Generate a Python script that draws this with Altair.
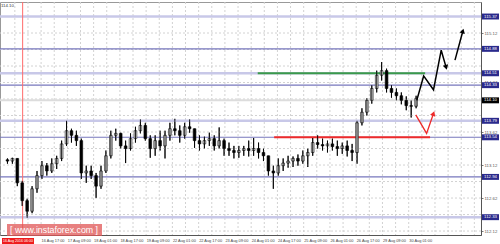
import altair as alt
import pandas as pd

# ---------------- data (3-hour candles, USD/JPY-like prices) ----------------
candle_high = [113.22, 113.23, 113.22, 112.88, 112.61, 112.80, 113.03, 113.18, 113.15, 113.22,
               113.26, 113.49, 113.79, 113.67, 113.64, 113.52, 113.11, 113.11, 113.00, 113.11,
               113.34, 113.64, 113.67, 113.61, 113.49, 113.60, 113.70, 113.81, 113.76, 113.57,
               113.57, 113.64, 113.64, 113.76, 113.82, 113.72, 113.76, 113.81, 113.67, 113.57,
               113.55, 113.61, 113.57, 113.69, 113.52, 113.46, 113.41, 113.41, 113.41, 113.49,
               113.53, 113.46, 113.37, 113.26, 113.11, 113.22, 113.22, 113.26, 113.25, 113.28,
               113.34, 113.37, 113.53, 113.57, 113.52, 113.49, 113.52, 113.49, 113.46, 113.49,
               113.44, 113.79, 113.98, 114.13, 114.33, 114.55, 114.68, 114.58, 114.33, 114.28,
               114.22, 114.16, 114.10, 114.17]
candle_low = [113.14, 113.14, 112.80, 112.50, 112.32, 112.39, 112.70, 112.91, 112.96, 113.00,
              113.06, 113.18, 113.41, 113.46, 113.41, 112.91, 112.85, 112.91, 112.62, 112.76,
              113.00, 113.22, 113.49, 113.37, 113.15, 113.34, 113.46, 113.60, 113.49, 113.23,
              113.26, 113.34, 113.22, 113.49, 113.57, 113.46, 113.52, 113.61, 113.38, 113.34,
              113.37, 113.41, 113.34, 113.37, 113.26, 113.26, 113.22, 113.23, 113.26, 113.25,
              113.26, 113.22, 113.18, 112.96, 112.76, 112.96, 113.03, 113.08, 113.09, 113.11,
              113.14, 113.09, 113.26, 113.37, 113.34, 113.31, 113.34, 113.26, 113.29, 113.25,
              113.18, 113.14, 113.72, 113.87, 114.05, 114.22, 114.40, 114.22, 114.14, 114.10,
              114.04, 113.95, 113.84, 113.98]
candle_close = [113.18, 113.22, 112.85, 112.58, 112.42, 112.76, 112.96, 113.11, 113.03, 113.14,
                113.22, 113.44, 113.64, 113.57, 113.49, 113.00, 113.03, 112.96, 112.80, 113.03,
                113.26, 113.57, 113.60, 113.41, 113.37, 113.52, 113.64, 113.72, 113.52, 113.37,
                113.49, 113.41, 113.57, 113.67, 113.64, 113.57, 113.70, 113.67, 113.49, 113.44,
                113.49, 113.52, 113.41, 113.49, 113.37, 113.34, 113.31, 113.34, 113.37, 113.34,
                113.37, 113.31, 113.26, 113.03, 113.00, 113.11, 113.15, 113.18, 113.22, 113.18,
                113.26, 113.31, 113.46, 113.43, 113.41, 113.44, 113.40, 113.37, 113.41, 113.34,
                113.31, 113.76, 113.92, 114.10, 114.28, 114.48, 114.55, 114.28, 114.22, 114.17,
                114.10, 114.02, 114.01, 114.13]
first_open = 113.20
hours_per_candle = 3

x_label_text = ["16 Aug 17:00", "17 Aug 09:00", "18 Aug 01:00", "18 Aug 17:00", "19 Aug 09:00",
                "22 Aug 01:00", "22 Aug 17:00", "23 Aug 09:00", "24 Aug 01:00", "24 Aug 17:00",
                "25 Aug 09:00", "26 Aug 01:00", "26 Aug 17:00", "29 Aug 09:00", "30 Aug 01:00"]
x_label_hour = [22, 38, 54, 70, 86, 102, 118, 134, 150, 166, 182, 198, 214, 230, 246]
x_grid_hour = [6, 14, 22, 30, 38, 46, 54, 62, 70, 78, 86, 94, 102, 110, 118, 126, 134, 142,
               150, 158, 166, 174, 182, 190, 198, 206, 214, 222, 230, 238, 246, 254, 262,
               270, 278, 286]
y_ticks = [112.12, 112.37, 112.62, 112.87, 113.12, 113.37, 113.62, 113.87, 114.37,
           114.62, 115.12]
y_grid = [112.12, 112.37, 112.62, 112.87, 113.12, 113.37, 113.62, 113.87, 114.12, 114.37,
          114.62, 114.87, 115.12, 115.37]

levels_light = [115.37, 114.51, 113.79, 112.33]
levels_dark = [114.88, 114.33, 113.54, 112.94]
current_price = 114.10
cursor_hour = 10.75

green_level = 114.51
green_from, green_to = 154, 256
red_level = 113.54
red_from, red_to = 164, 259

black_path1_h = [250.9, 255.1, 261.1, 265.8, 268.8]
black_path1_p = [114.10, 114.47, 114.26, 114.86, 114.60]
black_path2_h = [274.2, 279.0]
black_path2_p = [114.71, 115.15]
red_path_h = [250.3, 256.9, 261.1]
red_path_p = [113.88, 113.60, 113.90]

# ---------------- tables ----------------
opens = [first_open] + candle_close[:-1]
candles = pd.DataFrame({
    "h": [hours_per_candle * i + hours_per_candle / 2 for i in range(len(candle_close))],
    "open": opens, "high": candle_high, "low": candle_low, "close": candle_close,
})
candles["bull"] = candles["close"] >= candles["open"]

X_DOM = [0, 287]
Y_DOM = [112.06, 115.59]
xs = alt.Scale(domain=X_DOM, nice=False, zero=False)
ys = alt.Scale(domain=Y_DOM, nice=False, zero=False)
FONT = "Liberation Sans"

base = alt.Chart(candles)

grid = alt.Chart(pd.DataFrame({"p": y_grid})).mark_rule(
    color="#d2d2d2", strokeDash=[2, 2], strokeWidth=1).encode(y=alt.Y("p:Q", scale=ys))
vgrid = alt.Chart(pd.DataFrame({"h": x_grid_hour})).mark_rule(
    color="#d2d2d2", strokeDash=[2, 2], strokeWidth=1).encode(x=alt.X("h:Q", scale=xs))

wicks = base.mark_rule(color="#000000", strokeWidth=0.9).encode(
    x=alt.X("h:Q", scale=xs,
            axis=alt.Axis(labels=False, ticks=False, domain=True, domainColor="#555555",
                          grid=False, title=None)),
    y=alt.Y("low:Q", scale=ys,
            axis=alt.Axis(orient="right", values=y_ticks, format=".2f", grid=False,
                          domainColor="#555555", tickSize=2, tickColor="#777777",
                          labelFontSize=4.3, labelColor="#555555", labelFont=FONT,
                          labelPadding=1, title=None)),
    y2="high:Q",
)
bodies = base.mark_bar(width=2.7, stroke="#000000", strokeWidth=0.6).encode(
    x=alt.X("h:Q", scale=xs),
    y=alt.Y("open:Q", scale=ys),
    y2="close:Q",
    fill=alt.condition("datum.bull", alt.value("#ffffff"), alt.value("#000000")),
)

cur_line = alt.Chart(pd.DataFrame({"p": [current_price]})).mark_rule(
    color="#dcdcdc", strokeWidth=2).encode(y=alt.Y("p:Q", scale=ys))
light_lines = alt.Chart(pd.DataFrame({"p": levels_light})).mark_rule(
    color="#c8c8e8", strokeWidth=2.5).encode(y=alt.Y("p:Q", scale=ys))
dark_lines = alt.Chart(pd.DataFrame({"p": levels_dark})).mark_rule(
    color="#7777bd", strokeWidth=1.1).encode(y=alt.Y("p:Q", scale=ys))
cursor = alt.Chart(pd.DataFrame({"h": [cursor_hour]})).mark_rule(
    color="#ff6a6a", strokeWidth=1).encode(x=alt.X("h:Q", scale=xs))

green_seg = alt.Chart(pd.DataFrame({"a": [green_from], "b": [green_to], "p": [green_level]})).mark_rule(
    color="#3a9a4a", strokeWidth=2).encode(x=alt.X("a:Q", scale=xs), x2="b:Q", y=alt.Y("p:Q", scale=ys))
red_seg = alt.Chart(pd.DataFrame({"a": [red_from], "b": [red_to], "p": [red_level]})).mark_rule(
    color="#ee2a2a", strokeWidth=2).encode(x=alt.X("a:Q", scale=xs), x2="b:Q", y=alt.Y("p:Q", scale=ys))


def path(hs, ps, color, width):
    df = pd.DataFrame({"h": hs, "p": ps, "o": list(range(len(hs)))})
    return alt.Chart(df).mark_line(color=color, strokeWidth=width).encode(
        x=alt.X("h:Q", scale=xs), y=alt.Y("p:Q", scale=ys), order="o:Q")


def head(h, p, color, ang):
    return alt.Chart(pd.DataFrame({"h": [h], "p": [p]})).mark_point(
        shape="triangle-up", filled=True, color=color, size=30, angle=ang, opacity=1).encode(
        x=alt.X("h:Q", scale=xs), y=alt.Y("p:Q", scale=ys))


fc1 = path(black_path1_h, black_path1_p, "#000000", 1.5)
fc2 = path(black_path2_h, black_path2_p, "#000000", 1.5)
fcr = path(red_path_h, red_path_p, "#ee2a2a", 1.3)
hd1 = head(black_path1_h[-1], black_path1_p[-1], "#000000", 164)
hd2 = head(black_path2_h[-1], black_path2_p[-1], "#000000", 16)
hdr = head(red_path_h[-1], red_path_p[-1], "#ee2a2a", 20)

box_df = pd.DataFrame({"p": levels_light + levels_dark})
box_df["lab"] = box_df["p"].map(lambda v: f"{v:.2f}")
boxes = alt.Chart(box_df).transform_calculate(
    lo="datum.p - 0.045", hi="datum.p + 0.045").mark_rect(color="#2a2a8c").encode(
    x=alt.value(482), x2=alt.value(499), y=alt.Y("lo:Q", scale=ys), y2="hi:Q")
box_txt = alt.Chart(box_df).mark_text(color="#ffffff", fontSize=4.3, font=FONT, align="center",
                                      baseline="middle").encode(
    x=alt.value(490.5), y=alt.Y("p:Q", scale=ys), text="lab:N")
cur_df = pd.DataFrame({"p": [current_price], "lab": [f"{current_price:.2f}"]})
cur_box = alt.Chart(cur_df).transform_calculate(
    lo="datum.p - 0.045", hi="datum.p + 0.045").mark_rect(color="#000000").encode(
    x=alt.value(482), x2=alt.value(499), y=alt.Y("lo:Q", scale=ys), y2="hi:Q")
cur_txt = alt.Chart(cur_df).mark_text(color="#ffffff", fontSize=4.3, font=FONT, align="center",
                                      baseline="middle").encode(
    x=alt.value(490.5), y=alt.Y("p:Q", scale=ys), text="lab:N")

xl = alt.Chart(pd.DataFrame({"h": x_label_hour, "t": x_label_text})).mark_text(
    fontSize=3.9, font=FONT, color="#444444", align="left", baseline="middle", dx=0.5).encode(
    x=alt.X("h:Q", scale=xs), y=alt.value(239), text="t:N")

date_box = alt.Chart(pd.DataFrame({"t": ["16 Aug 2016 06:00"]})).mark_rect(color="#ee1c1c").encode(
    x=alt.value(2), x2=alt.value(34), y=alt.value(236), y2=alt.value(242))
date_txt = alt.Chart(pd.DataFrame({"t": ["16 Aug 2016 06:00"]})).mark_text(
    fontSize=3.6, font=FONT, color="#ffffff", align="center", baseline="middle").encode(
    x=alt.value(18), y=alt.value(239), text="t:N")

wm_box = alt.Chart(pd.DataFrame({"t": ["[ www.instaforex.com ]"]})).mark_rect(
    color="#e05555", opacity=0.75).encode(
    x=alt.value(7), x2=alt.value(102), y=alt.value(222), y2=alt.value(234))
wm_txt = alt.Chart(pd.DataFrame({"t": ["[ www.instaforex.com ]"]})).mark_text(
    fontSize=8.8, font=FONT, color="#ffffff", align="center", baseline="middle").encode(
    x=alt.value(54), y=alt.value(228), text="t:N")

top_txt = alt.Chart(pd.DataFrame({"t": ["114.10"]})).mark_text(
    fontSize=4.3, font=FONT, color="#333333", align="left", baseline="middle").encode(
    x=alt.value(1), y=alt.value(4), text="t:N")

chart = alt.layer(
    wicks, grid, vgrid, cur_line, light_lines, dark_lines, cursor, green_seg, red_seg,
    bodies, wicks.encode(), fc1, fc2, fcr, hd1, hd2, hdr,
    boxes, box_txt, cur_box, cur_txt, xl, date_box, date_txt, wm_box, wm_txt, top_txt,
).properties(
    width=481, height=233,
    padding={"left": 0, "top": 2, "right": 19, "bottom": 9},
    autosize=alt.AutoSizeParams(type="none"),
    background="#ffffff",
).configure_view(stroke="#999999", strokeWidth=1)

chart.save("out.html", embed_options={"renderer": "svg", "actions": False})
